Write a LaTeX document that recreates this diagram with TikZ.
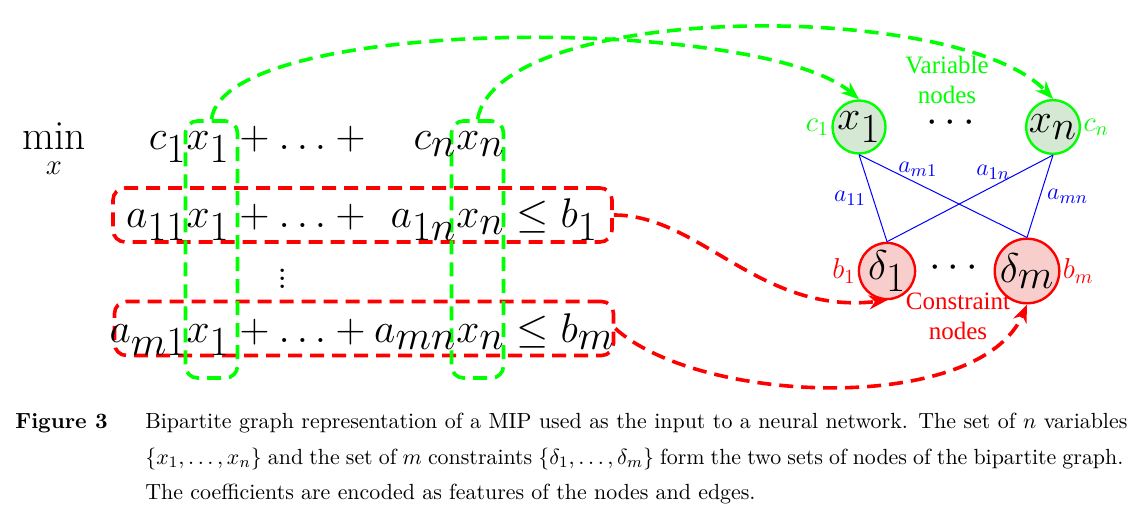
\documentclass[tikz,border=0pt]{standalone}
\usepackage{amsmath}
\usepackage{fontspec}
\newfontfamily\notefont{Liberation Serif}
\usetikzlibrary{arrows.meta}
\DeclareMathSizes{22}{22}{19.5}{16}
\definecolor{varfill}{RGB}{213,232,212}
\definecolor{confill}{RGB}{248,206,204}
\newcommand\termsize{\fontsize{22}{26}\selectfont}
\tikzset{
  term/.style={inner sep=0pt, font=\termsize},
  varnode/.style={circle, draw=green, fill=varfill, line width=1.2pt, minimum size=26.5pt, inner sep=0pt, font=\termsize},
  connode/.style={circle, draw=red, fill=confill, line width=1.2pt, minimum size=26.5pt, inner sep=0pt, font=\termsize},
  greenbox/.style={draw=green, line width=1.8pt, dash pattern=on 7pt off 4pt, rounded corners=6pt, minimum width=26pt, minimum height=128.5pt},
  redbox/.style={draw=red, line width=1.8pt, dash pattern=on 7pt off 4pt, rounded corners=6pt, minimum width=249.5pt, minimum height=27pt},
  greenarrow/.style={green, line width=1.8pt, dash pattern=on 7pt off 4pt, -{Stealth[length=9pt,width=7pt]}},
  redarrow/.style={red, line width=1.8pt, dash pattern=on 7pt off 4pt, -{Stealth[length=9pt,width=7pt]}},
  coefedge/.style={blue, line width=0.5pt},
  coeflabel/.style={text=blue, font=\fontsize{13}{15}\selectfont},
  note/.style={inner sep=0pt, align=center, font=\notefont\fontsize{12.5}{15}\selectfont},
  caption/.style={inner sep=0pt, anchor=base west, font=\fontsize{10.95}{13.6}\selectfont}
}

\begin{document}
\begin{tikzpicture}[x=0.5pt,y=-0.5pt]
\useasboundingbox (0,0) rectangle (1138,517);

% boxes round the columns and the rows
\node[redbox] (row1) at (362.5,215) {};
\node[redbox] (row2) at (364,328.5) {};
\node[greenbox] (col1) at (211.5,249.5) {};
\node[greenbox] (col2) at (477.5,249.5) {};

% the MIP
\node[term, anchor=base, font=\huge] (min) at (54,150) {$\displaystyle\min_{x}$};
\node[term, anchor=base east] (c1x1) at (230,150) {$c_1x_1$};
\node[term, anchor=base west] (obj) at (230,150) {${}+\ldots+{}$};
\node[term, anchor=base east] (cnxn) at (505,150) {$c_nx_n$};

\node[term, anchor=base east] (a11) at (230,228) {$a_{11}x_1$};
\node[term, anchor=base west] (sum1) at (230,228) {${}+\ldots+{}$};
\node[term, anchor=base east] (a1n) at (505,228) {$a_{1n}x_n$};
\node[term, anchor=base west] (rhs1) at (505,228) {${}\leq b_1$};

\node[term, font=\huge] (vdots) at (283,273) {$\vdots$};

\node[term, anchor=base east] (am1) at (230,343) {$a_{m1}x_1$};
\node[term, anchor=base west] (summ) at (230,343) {${}+\ldots+{}$};
\node[term, anchor=base east] (amn) at (505,343) {$a_{mn}x_n$};
\node[term, anchor=base west] (rhsm) at (505,343) {${}\leq b_m$};

% bipartite graph
\node[varnode, label={[text=green, font=\Large, inner sep=1pt]left:$c_1$}] (x1) at (859,127) {$x_1$};
\node[varnode, label={[text=green, font=\Large, inner sep=1pt]right:$c_n$}] (xn) at (1053,127) {$x_n$};
\node[term, font=\huge] (xdots) at (954,123) {$\cdots$};
\node[connode, label={[text=red, font=\Large, inner sep=1pt]left:$b_1$}] (d1) at (887,271) {$\delta_1$};
\node[connode, label={[text=red, font=\Large, inner sep=1pt]right:$b_m$}] (dm) at (1027,271) {$\delta_m$};
\node[term, font=\huge] (ddots) at (957,268) {$\cdots$};

\node[note, text=green] (vartext) at (947,80) {Variable\\nodes};
\node[note, text=red] (context) at (958,316) {Constraint\\nodes};

\draw[coefedge] (x1.south) -- node[pos=.5, left, coeflabel] {$a_{11}$} (d1.north);
\draw[coefedge] (x1.south) -- node[pos=.35, above, coeflabel] {$a_{m1}$} (dm.north);
\draw[coefedge] (xn.south) -- node[pos=.36, above, coeflabel] {$a_{1n}$} (d1.north);
\draw[coefedge] (xn.south) -- node[pos=.5, right, coeflabel] {$a_{mn}$} (dm.north);

% columns to variables, rows to constraints
\draw[greenarrow] (col1.north) .. controls (225,15) and (760,15) .. (x1.north);
\draw[greenarrow] (col2.north) .. controls (500,0) and (960,0) .. (xn.north);
\draw[redarrow] (row1.east) .. controls (700,215) and (760,315) .. (d1.south);
\draw[redarrow] (row2.east) .. controls (700,405) and (980,415) .. (dm.south);

% caption
\node[caption, font=\fontsize{10.95}{13.6}\selectfont\bfseries] (fig) at (15,428) {Figure 3};
\node[caption] (cap1) at (145,428) {\makebox[491pt][s]{Bipartite graph representation of a MIP used as the input to a neural network. The set of $n$ variables}};
\node[caption] (cap2) at (145,464) {\makebox[489pt][s]{$\{x_1,\ldots,x_n\}$ and the set of $m$ constraints $\{\delta_1,\ldots,\delta_m\}$ form the two sets of nodes of the bipartite graph.}};
\node[caption] (cap3) at (145,499) {The coefficients are encoded as features of the nodes and edges.};

\end{tikzpicture}
\end{document}
